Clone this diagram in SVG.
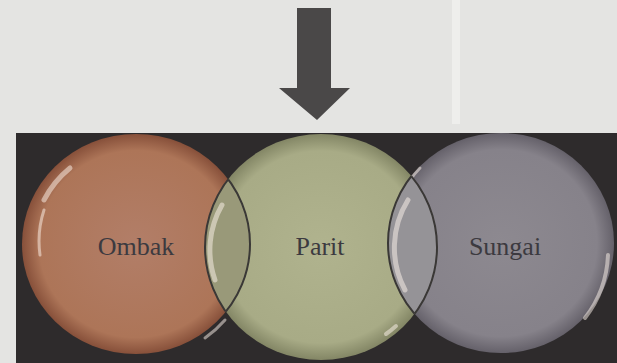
<svg xmlns="http://www.w3.org/2000/svg" width="617" height="363" viewBox="0 0 617 363">
<defs>
<radialGradient id="gO" cx="0.5" cy="0.5" r="0.5">
<stop offset="0" stop-color="#b27e68"/><stop offset="0.85" stop-color="#ad7558"/><stop offset="1" stop-color="#87503a"/>
</radialGradient>
<radialGradient id="gP" cx="0.5" cy="0.5" r="0.5">
<stop offset="0" stop-color="#b0b38e"/><stop offset="0.85" stop-color="#a8ab86"/><stop offset="1" stop-color="#838665"/>
</radialGradient>
<radialGradient id="gS" cx="0.5" cy="0.5" r="0.5">
<stop offset="0" stop-color="#8d8990"/><stop offset="0.85" stop-color="#86828a"/><stop offset="1" stop-color="#65616a"/>
</radialGradient>
<clipPath id="cO"><ellipse cx="136" cy="244" rx="114" ry="110"/></clipPath>
<clipPath id="cP"><ellipse cx="321" cy="247" rx="116" ry="113"/></clipPath>
<clipPath id="cS"><ellipse cx="501" cy="243" rx="113" ry="110"/></clipPath>
</defs>
<style>
.lbl{font-family:"Liberation Serif","DejaVu Serif",serif;font-size:26px;fill:#3c3a40;text-anchor:middle}
.hl{fill:none;stroke:#fff6ee;stroke-linecap:round;opacity:0.5}
.edge{fill:none;stroke:#3a3836;stroke-width:2}
</style>
<rect width="617" height="363" fill="#e4e4e2"/>
<rect x="452" y="0" width="8" height="124" fill="#eeeeec"/>
<rect x="16" y="133" width="601" height="230" fill="#2e2b2c"/>
<g id="arrow">
<polygon points="297,8 331,8 331,88 350,88 317,120 279,88 297,88" fill="#4a4848"/>
</g>
<g id="ombak">
<ellipse cx="136" cy="244" rx="114" ry="110" fill="url(#gO)"/>
<path class="hl" d="M44,200 A100,100 0 0 1 70,168" stroke-width="5"/>
<path class="hl" d="M40,255 A100,100 0 0 1 44,210" stroke-width="3"/>
<path class="hl" d="M225,320 A110,110 0 0 1 205,338" stroke-width="3"/>
<text class="lbl" x="136" y="255">Ombak</text>
</g>
<g id="sungai">
<ellipse cx="501" cy="243" rx="113" ry="110" fill="url(#gS)"/>
<path class="hl" d="M608,255 A110,110 0 0 1 585,318" stroke-width="4"/>
<path class="hl" d="M410,180 A110,110 0 0 1 420,168" stroke-width="3"/>
<text class="lbl" x="505" y="255">Sungai</text>
</g>
<g id="parit">
<ellipse cx="321" cy="247" rx="116" ry="113" fill="url(#gP)"/>
<path class="hl" d="M396,326 A110,110 0 0 1 386,334" stroke-width="4"/>
<text class="lbl" x="320" y="255">Parit</text>
</g>
<g id="overlaps">
<g clip-path="url(#cO)">
<ellipse cx="321" cy="247" rx="116" ry="113" fill="#999979"/>
<path class="hl" d="M222,205 A90,90 0 0 0 215,280" stroke-width="5"/>
</g>
<ellipse cx="321" cy="247" rx="116" ry="113" class="edge" clip-path="url(#cO)"/>
<ellipse cx="136" cy="244" rx="114" ry="110" class="edge" clip-path="url(#cP)"/>
<g clip-path="url(#cP)">
<ellipse cx="501" cy="243" rx="113" ry="110" fill="#959397"/>
<path class="hl" d="M408,200 A90,90 0 0 0 405,290" stroke-width="5"/>
</g>
<ellipse cx="501" cy="243" rx="113" ry="110" class="edge" clip-path="url(#cP)"/>
<ellipse cx="321" cy="247" rx="116" ry="113" class="edge" clip-path="url(#cS)"/>
</g>
</svg>
